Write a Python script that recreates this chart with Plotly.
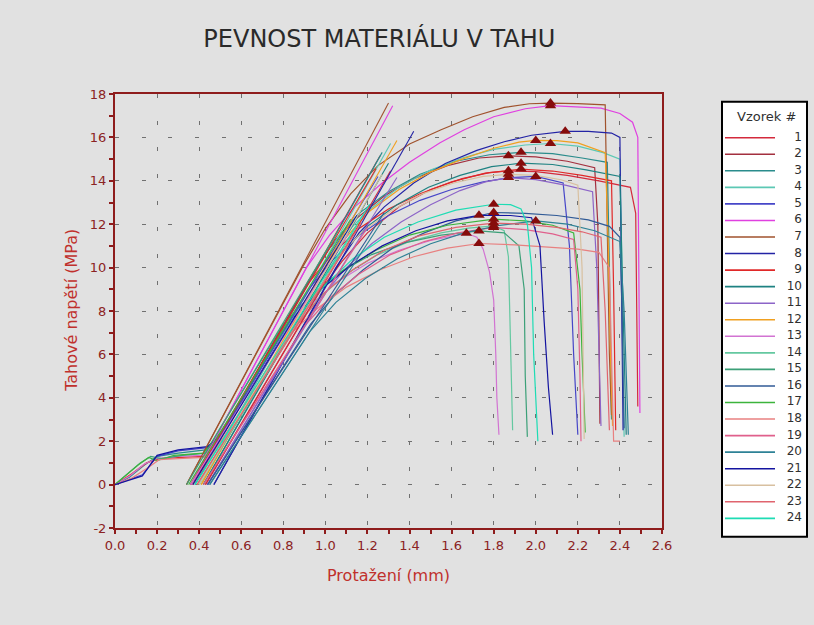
import plotly.graph_objects as go

# ---- specimen ids and line colours -------------------------------------
SAMPLE_IDS = list(range(1, 25))
SAMPLE_COLORS = [
    "#D42A3C", "#A3303F", "#2A8C8C", "#5CC8B4", "#4646C8", "#E040E0",
    "#A0522D", "#2323A5", "#E02828", "#1E8282", "#8C64C8", "#F0A020",
    "#D273D2", "#64C8A0", "#3CA078", "#305A96", "#3CB43C", "#E88080",
    "#E0608C", "#2E8296", "#1414A0", "#D8C0A0", "#E0646E", "#1EDCB4",
]

# ---- measured stress-strain curves: (elongation mm, stress MPa) --------
VZOREK_01 = [(0.43, 0.0), (0.98, 9.0), (1.08, 10.3), (1.20, 11.6), (1.35, 12.8), (1.50, 13.6), (1.65, 14.1), (1.78, 14.38), (1.87, 14.46), (2.00, 14.42), (2.15, 14.25), (2.30, 14.0), (2.45, 13.7), (2.475, 12.5), (2.48, 8.0), (2.485, 3.6)]
VZOREK_02 = [(0.37, 0.0), (0.92, 9.4), (1.02, 10.9), (1.14, 12.2), (1.28, 13.3), (1.42, 14.1), (1.58, 14.7), (1.73, 15.05), (1.87, 15.15), (2.00, 15.1), (2.15, 14.9), (2.28, 14.6), (2.295, 12.0), (2.30, 7.0), (2.305, 2.8)]
VZOREK_03 = [(0.0, 0.0), (0.07, 0.35), (0.14, 0.9), (0.20, 1.3), (0.30, 1.45), (0.43, 1.6), (0.52, 2.5), (0.94, 9.7), (1.04, 11.2), (1.16, 12.5), (1.30, 13.5), (1.45, 14.3), (1.62, 14.9), (1.78, 15.2), (1.93, 15.31), (2.08, 15.25), (2.22, 15.05), (2.34, 14.85), (2.35, 10.0), (2.355, 6.0), (2.36, 3.0)]
VZOREK_04 = [(0.40, 0.0), (0.98, 10.0), (1.08, 11.4), (1.20, 12.6), (1.35, 13.7), (1.50, 14.5), (1.65, 15.05), (1.80, 15.45), (1.95, 15.65), (2.07, 15.72), (2.20, 15.6), (2.32, 15.3), (2.40, 15.0), (2.41, 10.0), (2.415, 5.0), (2.42, 2.2)]
VZOREK_05 = [(0.0, 0.0), (0.06, 0.2), (0.13, 0.45), (0.20, 1.3), (0.30, 1.55), (0.44, 1.7), (0.52, 2.6), (0.92, 9.0), (1.03, 10.3), (1.16, 11.5), (1.30, 12.4), (1.45, 13.1), (1.60, 13.6), (1.75, 13.95), (1.88, 14.15), (2.00, 14.2), (2.13, 13.9), (2.16, 11.0), (2.18, 6.0), (2.20, 2.3)]
VZOREK_06 = [(0.36, 0.0), (0.91, 10.0), (1.02, 11.5), (1.14, 12.8), (1.27, 13.9), (1.40, 14.85), (1.545, 15.75), (1.66, 16.35), (1.80, 16.95), (1.95, 17.32), (2.07, 17.46), (2.20, 17.4), (2.31, 17.35), (2.40, 17.1), (2.46, 16.7), (2.485, 16.0), (2.49, 9.0), (2.495, 3.3)]
VZOREK_07 = [(0.34, 0.0), (0.89, 10.0), (1.00, 11.8), (1.12, 13.4), (1.25, 14.7), (1.40, 15.7), (1.55, 16.35), (1.70, 16.95), (1.85, 17.38), (1.97, 17.55), (2.07, 17.58), (2.20, 17.56), (2.33, 17.5), (2.34, 12.0), (2.35, 6.0), (2.36, 3.2)]
VZOREK_08 = [(0.47, 0.0), (1.05, 10.0), (1.16, 11.6), (1.28, 12.8), (1.42, 13.9), (1.57, 14.8), (1.72, 15.4), (1.85, 15.8), (1.98, 16.1), (2.14, 16.28), (2.25, 16.28), (2.36, 16.2), (2.40, 16.0), (2.405, 11.0), (2.41, 6.0), (2.415, 2.5)]
VZOREK_09 = [(0.0, 0.0), (0.08, 0.5), (0.15, 1.0), (0.21, 1.2), (0.32, 1.25), (0.42, 1.3), (0.51, 2.5), (0.92, 9.3), (1.03, 10.6), (1.16, 11.8), (1.30, 12.7), (1.45, 13.4), (1.60, 13.95), (1.76, 14.35), (1.93, 14.54), (2.08, 14.45), (2.22, 14.25), (2.36, 14.0), (2.37, 9.0), (2.375, 5.0), (2.38, 2.5)]
VZOREK_10 = [(0.42, 0.0), (0.98, 9.4), (1.08, 10.7), (1.20, 11.9), (1.34, 12.9), (1.49, 13.7), (1.64, 14.25), (1.79, 14.65), (1.93, 14.81), (2.08, 14.75), (2.24, 14.5), (2.40, 14.2), (2.41, 10.0), (2.42, 6.0), (2.43, 2.3)]
VZOREK_11 = [(0.44, 0.0), (0.98, 8.6), (1.09, 9.9), (1.22, 11.1), (1.36, 12.1), (1.50, 12.9), (1.64, 13.55), (1.76, 13.95), (1.87, 14.15), (2.00, 14.05), (2.14, 13.8), (2.27, 13.5), (2.29, 10.0), (2.30, 6.0), (2.31, 2.7)]
VZOREK_12 = [(0.41, 0.0), (0.99, 9.9), (1.09, 11.3), (1.21, 12.6), (1.35, 13.6), (1.50, 14.4), (1.65, 15.0), (1.80, 15.5), (1.92, 15.78), (2.00, 15.86), (2.10, 15.85), (2.20, 15.75), (2.33, 15.3), (2.345, 11.0), (2.355, 6.0), (2.365, 2.7)]
VZOREK_13 = [(0.0, 0.0), (0.07, 0.4), (0.14, 0.95), (0.20, 1.2), (0.30, 1.3), (0.42, 1.35), (0.51, 2.3), (0.80, 6.8), (0.92, 8.2), (1.05, 9.3), (1.20, 10.2), (1.35, 10.8), (1.50, 11.25), (1.67, 11.58), (1.72, 11.4), (1.75, 10.85), (1.78, 9.8), (1.80, 8.5), (1.81, 6.0), (1.815, 4.0), (1.825, 2.3)]
VZOREK_14 = [(0.40, 0.0), (0.85, 7.2), (0.97, 8.6), (1.10, 9.7), (1.25, 10.6), (1.40, 11.2), (1.55, 11.6), (1.68, 11.82), (1.80, 11.92), (1.85, 11.7), (1.87, 10.5), (1.88, 7.0), (1.885, 4.5), (1.89, 2.5)]
VZOREK_15 = [(0.0, 0.0), (0.06, 0.5), (0.12, 1.0), (0.17, 1.3), (0.22, 1.2), (0.32, 1.35), (0.43, 1.45), (0.50, 2.6), (0.80, 7.4), (0.93, 8.7), (1.07, 9.8), (1.22, 10.6), (1.38, 11.15), (1.55, 11.5), (1.73, 11.69), (1.85, 11.6), (1.92, 11.0), (1.945, 9.0), (1.95, 5.0), (1.96, 2.2)]
VZOREK_16 = [(0.44, 0.0), (0.93, 7.4), (1.05, 8.8), (1.18, 9.9), (1.32, 10.9), (1.47, 11.6), (1.62, 12.15), (1.80, 12.54), (1.95, 12.5), (2.10, 12.4), (2.25, 12.2), (2.35, 11.9), (2.40, 11.4), (2.41, 8.0), (2.415, 5.0), (2.42, 2.6)]
VZOREK_17 = [(0.0, 0.0), (0.05, 0.4), (0.11, 0.9), (0.16, 1.25), (0.20, 1.1), (0.28, 1.35), (0.42, 1.45), (0.50, 2.4), (0.82, 7.4), (0.95, 8.8), (1.09, 9.9), (1.24, 10.8), (1.40, 11.5), (1.58, 11.95), (1.80, 12.23), (1.95, 12.15), (2.08, 11.95), (2.18, 11.6), (2.21, 9.0), (2.22, 6.0), (2.235, 2.4)]
VZOREK_18 = [(0.0, 0.0), (0.08, 0.3), (0.16, 0.8), (0.21, 1.15), (0.30, 1.2), (0.42, 1.25), (0.52, 2.2), (0.83, 6.9), (0.96, 8.1), (1.10, 9.1), (1.26, 9.9), (1.42, 10.5), (1.58, 10.9), (1.73, 11.11), (1.90, 11.05), (2.05, 10.95), (2.20, 10.85), (2.30, 10.7), (2.35, 10.0), (2.36, 6.0), (2.37, 2.0), (2.40, 2.0)]
VZOREK_19 = [(0.42, 0.0), (0.90, 7.3), (1.02, 8.6), (1.16, 9.7), (1.31, 10.6), (1.47, 11.2), (1.63, 11.6), (1.80, 11.85), (1.95, 11.75), (2.08, 11.55), (2.18, 11.3), (2.20, 9.0), (2.21, 5.0), (2.215, 2.0)]
VZOREK_20 = [(0.45, 0.0), (0.93, 7.1), (1.05, 8.4), (1.19, 9.5), (1.34, 10.4), (1.50, 11.1), (1.66, 11.6), (1.83, 11.95), (2.00, 12.15), (2.15, 12.0), (2.28, 11.7), (2.40, 11.2), (2.42, 8.0), (2.43, 5.0), (2.44, 2.3)]
VZOREK_21 = [(0.0, 0.0), (0.06, 0.2), (0.13, 0.4), (0.20, 1.35), (0.30, 1.6), (0.44, 1.75), (0.52, 2.4), (0.85, 7.7), (0.98, 9.0), (1.12, 10.1), (1.27, 11.0), (1.43, 11.7), (1.58, 12.15), (1.73, 12.41), (1.88, 12.4), (1.98, 12.3), (2.02, 11.0), (2.04, 7.5), (2.06, 4.5), (2.08, 2.3)]
VZOREK_22 = [(0.40, 0.0), (0.95, 9.1), (1.05, 10.4), (1.17, 11.6), (1.31, 12.6), (1.46, 13.4), (1.61, 13.9), (1.75, 14.2), (1.87, 14.3), (2.00, 14.25), (2.12, 14.05), (2.20, 13.8), (2.22, 10.0), (2.225, 6.0), (2.23, 2.1)]
VZOREK_23 = [(0.39, 0.0), (0.87, 7.4), (0.99, 8.8), (1.13, 9.9), (1.28, 10.8), (1.44, 11.45), (1.62, 11.85), (1.80, 12.05), (1.95, 12.0), (2.10, 11.85), (2.22, 11.65), (2.31, 11.4), (2.33, 8.0), (2.34, 5.0), (2.35, 2.5)]
VZOREK_24 = [(0.38, 0.0), (0.87, 7.6), (0.99, 9.1), (1.13, 10.4), (1.28, 11.4), (1.44, 12.1), (1.62, 12.65), (1.80, 12.92), (1.88, 12.9), (1.93, 12.7), (1.96, 12.0), (1.98, 10.0), (1.99, 6.0), (2.01, 2.0)]

CURVES = [
    VZOREK_01, VZOREK_02, VZOREK_03, VZOREK_04, VZOREK_05, VZOREK_06,
    VZOREK_07, VZOREK_08, VZOREK_09, VZOREK_10, VZOREK_11, VZOREK_12,
    VZOREK_13, VZOREK_14, VZOREK_15, VZOREK_16, VZOREK_17, VZOREK_18,
    VZOREK_19, VZOREK_20, VZOREK_21, VZOREK_22, VZOREK_23, VZOREK_24,
]

# ---- maximum stress point of each specimen ----------------------------
PEAK_X = [1.87, 1.87, 1.93, 2.07, 2.00, 2.07, 2.07, 2.14, 1.93, 1.93, 1.87, 2.00,
          1.67, 1.80, 1.73, 1.80, 1.80, 1.73, 1.80, 2.00, 1.73, 1.87, 1.80, 1.80]
PEAK_Y = [14.46, 15.15, 15.31, 15.72, 14.20, 17.46, 17.58, 16.28, 14.54, 14.81, 14.15, 15.86,
          11.58, 11.92, 11.69, 12.54, 12.23, 11.11, 11.85, 12.15, 12.41, 14.30, 12.05, 12.92]

# ---- modulus (tangent) lines: from zero stress up to the maximum stress --
TANGENT_X0 = [0.43, 0.37, 0.38, 0.40, 0.36, 0.36, 0.34, 0.47, 0.36, 0.42, 0.44, 0.41,
              0.36, 0.40, 0.34, 0.44, 0.35, 0.37, 0.42, 0.45, 0.37, 0.40, 0.39, 0.38]
TANGENT_X1 = [1.31, 1.26, 1.27, 1.31, 1.25, 1.32, 1.30, 1.42, 1.24, 1.30, 1.34, 1.34,
              1.11, 1.15, 1.06, 1.28, 1.12, 1.11, 1.20, 1.27, 1.15, 1.27, 1.17, 1.21]

# ---- axis tick labels ----------------------------------------------------
Y_TICKS = [-2, 0, 2, 4, 6, 8, 10, 12, 14, 16, 18]
Y_TICK_TEXT = ["-2", "0", "2", "4", "6", "8", "10", "12", "14", "16", "18"]

# ---- styling ------------------------------------------------------------
BG = "#E1E1E1"
AXIS_RED = "#8E1C1C"
TICK_RED = "#8B2323"
TITLE_RED = "#C0302C"
GRID = "#707070"
FONT = "DejaVu Sans"

fig = go.Figure()

# stress-strain curves
for sid, color, pts in zip(SAMPLE_IDS, SAMPLE_COLORS, CURVES):
    fig.add_trace(go.Scatter(
        x=[p[0] for p in pts], y=[p[1] for p in pts], mode="lines",
        line=dict(color=color, width=1.2), name=str(sid),
        showlegend=False, hoverinfo="skip"))

# modulus lines
for sid, color, x0, x1, yp in zip(SAMPLE_IDS, SAMPLE_COLORS, TANGENT_X0, TANGENT_X1, PEAK_Y):
    fig.add_trace(go.Scatter(
        x=[x0, x1], y=[0, yp], mode="lines",
        line=dict(color=color, width=1.1), name=str(sid),
        showlegend=False, hoverinfo="skip"))

# maximum-stress markers
fig.add_trace(go.Scatter(
    x=PEAK_X, y=PEAK_Y, mode="markers",
    marker=dict(symbol="triangle-up", size=10, color="#860C0C"),
    showlegend=False, hoverinfo="skip"))

# ---- specimen key drawn as its own small panel --------------------------
for sid, color in zip(SAMPLE_IDS, SAMPLE_COLORS):
    fig.add_trace(go.Scatter(
        x=[3, 53], y=[sid, sid], mode="lines", xaxis="x3", yaxis="y3",
        line=dict(color=color, width=1.6), showlegend=False, hoverinfo="skip"))
fig.add_trace(go.Scatter(
    x=[80] * len(SAMPLE_IDS), y=SAMPLE_IDS, text=[str(s) for s in SAMPLE_IDS],
    mode="text", textposition="middle left", xaxis="x3", yaxis="y3",
    textfont=dict(family=FONT, size=12, color="#303030"),
    showlegend=False, hoverinfo="skip"))

fig.add_shape(type="rect", xref="x3 domain", yref="y3 domain",
              x0=0, x1=1, y0=0, y1=1, fillcolor="white",
              line=dict(color="black", width=2), layer="below")
fig.add_annotation(text="Vzorek #", xref="x3", yref="y3", x=44, y=-0.27,
                   showarrow=False, xanchor="center", yanchor="middle",
                   font=dict(family=FONT, size=13, color="#303030"))

# axis titles
fig.add_annotation(text="Protažení (mm)", xref="paper", yref="paper",
                   x=0.3941, y=-0.0785, showarrow=False,
                   xanchor="center", yanchor="middle",
                   font=dict(family=FONT, size=16, color=TITLE_RED))
fig.add_annotation(text="Tahové napětí (MPa)", xref="paper", yref="paper",
                   x=-0.062, y=0.516, textangle=-90, showarrow=False,
                   xanchor="center", yanchor="middle",
                   font=dict(family=FONT, size=16, color=TITLE_RED))

common_axis = dict(showline=True, linecolor=AXIS_RED, linewidth=2, zeroline=False,
                   tickcolor=AXIS_RED, tickwidth=1.5, ticklen=4)

fig.update_layout(
    width=814, height=625,
    margin=dict(l=115, r=5, t=94, b=85, autoexpand=False),
    paper_bgcolor=BG, plot_bgcolor=BG,
    showlegend=False,
    font=dict(family=FONT, color="#303030"),
    title=dict(text="PEVNOST MATERIÁLU V TAHU", xref="container", yref="container",
               x=0.466, y=0.939, xanchor="center", yanchor="middle",
               font=dict(family=FONT, size=24, color="#2A2A2A")),
    xaxis=dict(domain=[0, 0.78818], range=[0, 2.6], tick0=0, dtick=0.2,
               tickformat=".1f", ticks="outside", mirror=True, anchor="y",
               showgrid=True, gridcolor=GRID, gridwidth=1, griddash="4px,22.67px",
               minor=dict(dtick=0.1, ticks="outside", ticklen=4,
                          tickcolor=AXIS_RED, showgrid=False),
               tickfont=dict(family=FONT, size=13, color=TICK_RED),
               automargin=False, **common_axis),
    yaxis=dict(domain=[0.026906, 1], range=[-2, 18],
               tickmode="array", tickvals=Y_TICKS, ticktext=Y_TICK_TEXT,
               ticks="outside", mirror=True, anchor="x",
               showgrid=True, gridcolor=GRID, gridwidth=1, griddash="4px,22.67px",
               minor=dict(dtick=1, tick0=0, ticks="outside", ticklen=4,
                          tickcolor=AXIS_RED, showgrid=False),
               tickfont=dict(family=FONT, size=13, color=TICK_RED),
               automargin=False, **common_axis),
    # inner halves of the crossing tick marks
    xaxis2=dict(overlaying="x", anchor="y", range=[0, 2.6], tick0=0, dtick=0.1,
                ticks="inside", ticklen=4, tickcolor=AXIS_RED, tickwidth=1.5,
                showticklabels=False, showgrid=False, showline=False, zeroline=False),
    yaxis2=dict(overlaying="y", anchor="x", range=[-2, 18], tick0=0, dtick=1,
                ticks="inside", ticklen=4, tickcolor=AXIS_RED, tickwidth=1.5,
                showticklabels=False, showgrid=False, showline=False, zeroline=False),
    # key panel
    xaxis3=dict(domain=[0.87464, 0.99712], range=[0, 85], anchor="y3",
                visible=False, fixedrange=True),
    yaxis3=dict(domain=[0.0074, 0.98274], range=[25.11, -1.175], anchor="x3",
                visible=False, fixedrange=True),
)

fig.write_html("out.html")
